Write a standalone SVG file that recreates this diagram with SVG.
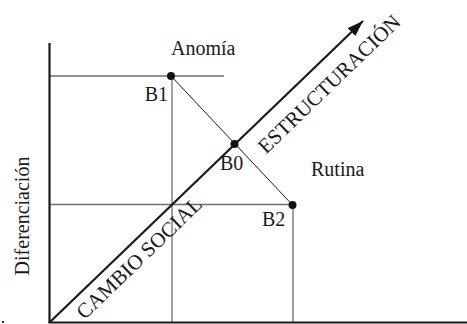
<svg xmlns="http://www.w3.org/2000/svg" width="467" height="324" viewBox="0 0 467 324">
<style>
text{font-family:"Liberation Serif","Times New Roman",serif;font-size:20px;fill:#1a1a1a}
.diag{font-size:21px}
.grid{stroke:#6e6e6e;stroke-width:1.3;fill:none}
.axis{stroke:#1a1a1a;stroke-width:2.2;fill:none}
.thin{stroke:#1a1a1a;stroke-width:1;fill:none}
.dot{fill:#111}
</style>
<defs>
<marker id="ah" markerUnits="userSpaceOnUse" markerWidth="17" markerHeight="12" refX="16" refY="6" orient="auto">
<path d="M0,0.5 L16,6 L0,11.5 z" fill="#111"/>
</marker>
</defs>
<rect width="467" height="324" fill="#fff"/>
<g id="connectors">
<line class="grid" x1="50" y1="76" x2="224" y2="76"/>
<line class="grid" x1="172" y1="76" x2="172" y2="322"/>
<line class="grid" x1="50" y1="204.5" x2="293" y2="204.5"/>
<line class="grid" x1="293" y1="204.5" x2="293" y2="322"/>
<line class="thin" x1="171" y1="76" x2="292.5" y2="205"/>
<line class="axis" x1="49.5" y1="43" x2="49.5" y2="323"/>
<line class="axis" x1="48.5" y1="322.5" x2="467" y2="322.5"/>
<line class="axis" x1="50" y1="322" x2="363" y2="21" stroke-width="2.6" marker-end="url(#ah)"/>
</g>
<rect x="2" y="321" width="2" height="2" fill="#333"/>
<g id="B1"><circle class="dot" cx="171" cy="76" r="4"/><text x="168" y="101" text-anchor="end">B1</text></g>
<g id="B0"><circle class="dot" cx="234.5" cy="144" r="4"/><text x="220" y="170">B0</text></g>
<g id="B2"><circle class="dot" cx="292.5" cy="205" r="4"/><text x="262" y="226">B2</text></g>
<g id="anomia"><text x="171" y="55">Anomía</text></g>
<g id="rutina"><text x="311" y="176">Rutina</text></g>
<g id="diferenciacion"><text transform="translate(29,216) rotate(-90)" text-anchor="middle">Diferenciación</text></g>
<g id="estructuracion"><text class="diag" transform="translate(334,89) rotate(-44)" text-anchor="middle">ESTRUCTURACIÓN</text></g>
<g id="cambio"><text class="diag" transform="translate(144,263) rotate(-44)" text-anchor="middle">CAMBIO SOCIAL</text></g>
</svg>
